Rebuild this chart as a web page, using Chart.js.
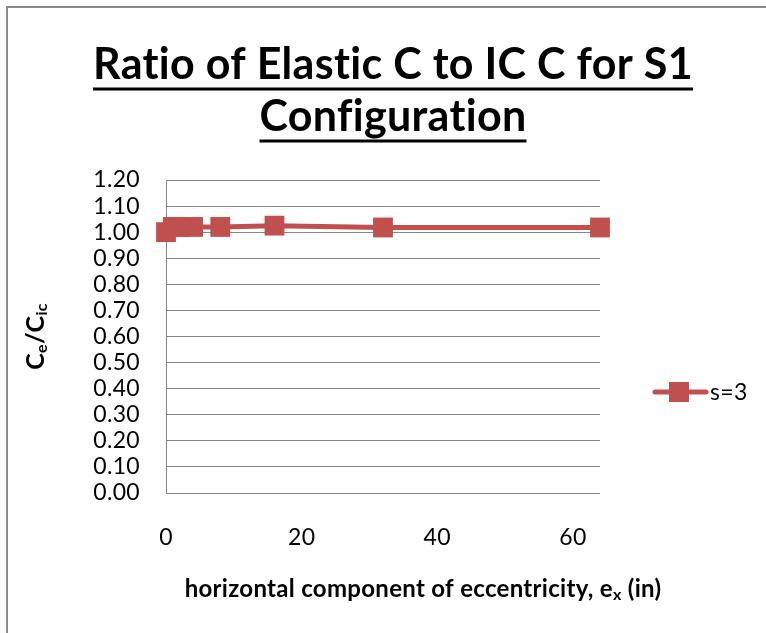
<!DOCTYPE html>
<html>
<head>
<meta charset="utf-8">
<script src="https://cdn.jsdelivr.net/npm/chart.js@4.4.0/dist/chart.umd.min.js"></script>
<style>
  html, body { margin: 0; padding: 0; background: #ffffff; }
  #wrap { position: relative; width: 766px; height: 633px; }
</style>
</head>
<body>
<div id="wrap"><canvas id="c" width="766" height="633"></canvas></div>
<script>
// ---- data ----
const titleLines = ['Ratio of Elastic C to IC C for S1', 'Configuration'];
const eccentricityX = [0, 1, 2, 4, 8, 16, 32, 64];
const ratioS3 = [1.00, 1.02, 1.02, 1.02, 1.02, 1.025, 1.018, 1.018];
const seriesName = 's=3';
const xTicks = [0, 20, 40, 60];
const yTickStep = 0.1;

const RED = '#c0504d';
const GRID = '#868686';
const FONT = 'Lato, "Open Sans", "Liberation Sans", sans-serif';
const TITLE_SIZE = 43;

const points = eccentricityX.map((x, i) => ({ x: x, y: ratioS3[i] }));

const decor = {
  id: 'decor',
  beforeDraw(chart) {
    const ctx = chart.ctx;
    ctx.letterSpacing = '0.3px';
    ctx.save();
    ctx.fillStyle = '#ffffff';
    ctx.fillRect(0, 0, chart.width, chart.height);
    ctx.strokeStyle = '#8c8c8c';
    ctx.lineWidth = 2;
    ctx.beginPath();
    ctx.moveTo(7, chart.height);
    ctx.lineTo(7, 7);
    ctx.lineTo(chart.width, 7);
    ctx.stroke();
    ctx.restore();
  },
  afterDraw(chart) {
    const ctx = chart.ctx;
    const ca = chart.chartArea;
    ctx.save();
    // underline title
    const tb = chart.titleBlock;
    if (tb) {
      ctx.font = 'bold ' + TITLE_SIZE + 'px ' + FONT;
      const lh = 52;
      const cx = (tb.left + tb.right) / 2;
      ctx.strokeStyle = '#000';
      ctx.lineWidth = 3;
      titleLines.forEach((t, i) => {
        const w = ctx.measureText(t).width;
        const y = tb.top + tb.options.padding.top + lh * i + lh / 2 + 24;
        ctx.beginPath();
        ctx.moveTo(cx - w / 2, y);
        ctx.lineTo(cx + w / 2, y);
        ctx.stroke();
      });
    }
    // y axis title  C_e / C_ic (rotated)
    ctx.fillStyle = '#000';
    ctx.translate(36, (ca.top + ca.bottom) / 2);
    ctx.rotate(-Math.PI / 2);
    const big = 'bold 25px ' + FONT, small = 'bold 16px ' + FONT;
    const parts = [['C', big, 0], ['e', small, 6], ['/C', big, 0], ['ic', small, 6]];
    let total = 0;
    parts.forEach(p => { ctx.font = p[1]; total += ctx.measureText(p[0]).width; });
    let px = -total / 2;
    ctx.textBaseline = 'middle';
    ctx.textAlign = 'left';
    parts.forEach(p => { ctx.font = p[1]; ctx.fillText(p[0], px, p[2]); px += ctx.measureText(p[0]).width; });
    ctx.setTransform(1, 0, 0, 1, 0, 0);
    // x axis title
    const xb = 'bold 24px ' + FONT, xs = 'bold 16px ' + FONT;
    const xparts = [['horizontal component of eccentricity, e', xb, 0], ['x', xs, 6], [' (in)', xb, 0]];
    let xt = 0;
    xparts.forEach(p => { ctx.font = p[1]; xt += ctx.measureText(p[0]).width; });
    let xx = 423 - xt / 2;
    xparts.forEach(p => { ctx.font = p[1]; ctx.fillText(p[0], xx, 589 + p[2]); xx += ctx.measureText(p[0]).width; });
    // legend
    const ly = 392;
    ctx.strokeStyle = RED;
    ctx.lineWidth = 5;
    ctx.lineCap = 'round';
    ctx.beginPath();
    ctx.moveTo(655, ly);
    ctx.lineTo(706, ly);
    ctx.stroke();
    ctx.fillStyle = RED;
    ctx.fillRect(669, ly - 10, 20, 20);
    ctx.fillStyle = '#000';
    ctx.font = '23px ' + FONT;
    ctx.fillText(seriesName, 710, ly + 1);
    ctx.restore();
  }
};

new Chart(document.getElementById('c'), {
  type: 'scatter',
  data: {
    datasets: [{
      label: seriesName,
      data: points,
      showLine: true,
      borderColor: RED,
      backgroundColor: RED,
      borderWidth: 5,
      pointStyle: 'rect',
      pointRadius: 14,
      pointHoverRadius: 14,
      pointBorderWidth: 0,
      clip: false
    }]
  },
  options: {
    responsive: false,
    animation: false,
    layout: { padding: { left: 20, right: 0, top: 0, bottom: 0 } },
    plugins: {
      legend: { display: false },
      tooltip: { enabled: false },
      title: {
        display: true,
        text: titleLines,
        color: '#000',
        font: { family: FONT, size: TITLE_SIZE, weight: 'bold', lineHeight: 52 / TITLE_SIZE },
        padding: { top: 39, bottom: 37 }
      }
    },
    scales: {
      x: {
        type: 'linear',
        min: 0,
        max: 64,
        afterBuildTicks: s => { s.ticks = xTicks.map(v => ({ value: v })); },
        afterFit: s => { s.height = 140; },
        grid: { display: false, drawTicks: false },
        border: { display: false },
        ticks: { color: '#000', font: { family: FONT, size: 23 }, padding: 31, maxRotation: 0 }
      },
      y: {
        min: 0,
        max: 1.2,
        afterFit: s => { s.width = 146; },
        grid: { color: GRID, lineWidth: 1, drawTicks: false },
        border: { display: true, color: GRID, width: 1 },
        ticks: {
          stepSize: yTickStep,
          autoSkip: false,
          color: '#000',
          font: { family: FONT, size: 23, lineHeight: 1 },
          padding: 26,
          callback: v => Number(v).toFixed(2)
        }
      },
      yRight: {
        position: 'right',
        display: true,
        afterFit: s => { s.width = 166; },
        grid: { display: false, drawTicks: false },
        border: { display: false },
        ticks: { display: false }
      }
    }
  },
  plugins: [decor]
});
</script>
</body>
</html>
